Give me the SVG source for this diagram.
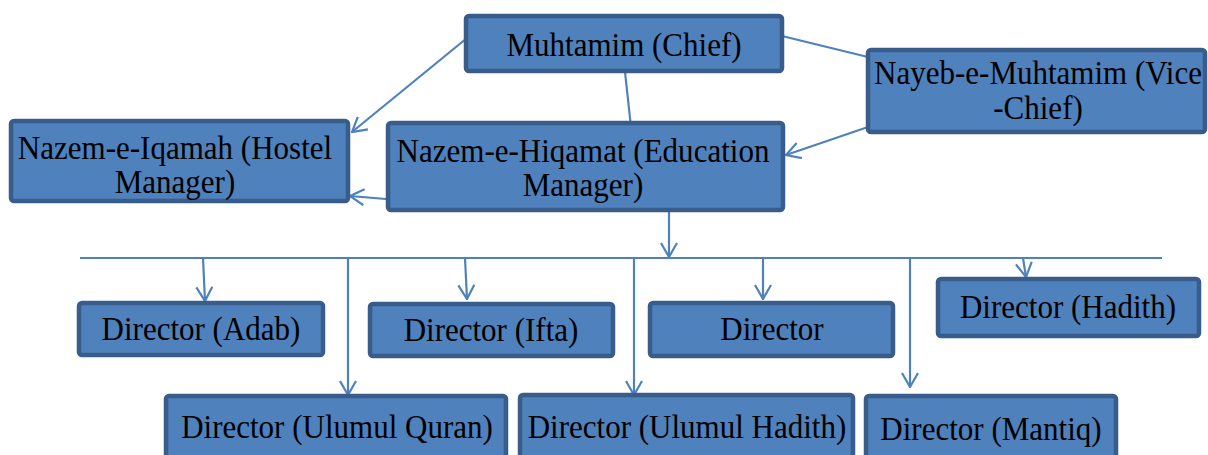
<svg xmlns="http://www.w3.org/2000/svg" width="1208" height="455" viewBox="0 0 1208 455">
  <defs>
    <style>
      .box { fill: #4F81BD; stroke: #385D8A; stroke-width: 4.5; }
      .lbl { font-family: "Liberation Serif", "Times New Roman", serif; font-size: 33px; fill: #000; text-anchor: middle; }
      .conn { fill: none; stroke: #4F81BD; stroke-width: 2.2; }
      .arr { marker-end: url(#arrow); }
    </style>
    <marker id="arrow" viewBox="0 0 16 18" refX="15" refY="9" markerWidth="16" markerHeight="18" markerUnits="userSpaceOnUse" orient="auto">
      <path d="M1,1 L15,9 L1,17" fill="none" stroke="#4F81BD" stroke-width="2.2"/>
    </marker>
  </defs>
  <rect width="1208" height="455" fill="#FFFFFF"/>

  <g id="connectors">
    <line class="conn arr" x1="467" y1="38" x2="352" y2="132"/>
    <line class="conn" x1="625" y1="72" x2="631" y2="127"/>
    <line class="conn" x1="782" y1="36" x2="872" y2="58"/>
    <line class="conn arr" x1="868" y1="127" x2="786" y2="155"/>
    <line class="conn arr" x1="518" y1="210" x2="350" y2="196"/>
    <line class="conn arr" x1="669" y1="210" x2="669" y2="257"/>
    <line class="conn" x1="80" y1="258" x2="1162" y2="258"/>
    <line class="conn arr" x1="203" y1="258" x2="205" y2="301"/>
    <line class="conn arr" x1="348" y1="258" x2="348" y2="395"/>
    <line class="conn arr" x1="465" y1="258" x2="467" y2="299"/>
    <line class="conn arr" x1="634" y1="258" x2="634" y2="395"/>
    <line class="conn arr" x1="763" y1="258" x2="763" y2="299"/>
    <line class="conn arr" x1="910" y1="258" x2="910" y2="387"/>
    <line class="conn arr" x1="1023" y1="258" x2="1026" y2="277"/>
  </g>

  <g id="muhtamim">
    <rect class="box" x="466" y="16" width="316" height="55" rx="3"/>
    <text class="lbl" transform="translate(624,56) scale(0.94,1)">Muhtamim (Chief)</text>
  </g>

  <g id="nayeb">
    <rect class="box" x="868" y="50" width="337" height="82" rx="3"/>
    <text class="lbl" transform="translate(1038,84) scale(0.94,1)"><tspan x="0" y="0">Nayeb-e-Muhtamim (Vice</tspan><tspan x="0" y="35">-Chief)</tspan></text>
  </g>

  <g id="iqamah">
    <rect class="box" x="11" y="121" width="337" height="80" rx="3"/>
    <text class="lbl" transform="translate(175,159) scale(0.94,1)"><tspan x="0" y="0">Nazem-e-Iqamah (Hostel</tspan><tspan x="0" y="34">Manager)</tspan></text>
  </g>

  <g id="hiqamat">
    <rect class="box" x="388" y="123" width="395" height="87" rx="3"/>
    <text class="lbl" transform="translate(583,162) scale(0.94,1)"><tspan x="0" y="0">Nazem-e-Hiqamat (Education</tspan><tspan x="0" y="34">Manager)</tspan></text>
  </g>

  <g id="dir-adab">
    <rect class="box" x="79" y="303" width="244" height="52" rx="3"/>
    <text class="lbl" transform="translate(201,340) scale(0.94,1)">Director (Adab)</text>
  </g>

  <g id="dir-ifta">
    <rect class="box" x="370" y="304" width="243" height="52" rx="3"/>
    <text class="lbl" transform="translate(491,341) scale(0.94,1)">Director (Ifta)</text>
  </g>

  <g id="dir">
    <rect class="box" x="650" y="303" width="243" height="53" rx="3"/>
    <text class="lbl" transform="translate(772,340) scale(0.94,1)">Director</text>
  </g>

  <g id="dir-hadith">
    <rect class="box" x="938" y="279" width="261" height="57" rx="3"/>
    <text class="lbl" transform="translate(1068,318) scale(0.94,1)">Director (Hadith)</text>
  </g>

  <g id="dir-ulumul-quran">
    <rect class="box" x="166" y="396" width="340" height="75" rx="3"/>
    <text class="lbl" transform="translate(337,438) scale(0.94,1)">Director (Ulumul Quran)</text>
  </g>

  <g id="dir-ulumul-hadith">
    <rect class="box" x="520" y="395" width="333" height="75" rx="3"/>
    <text class="lbl" transform="translate(687,438) scale(0.94,1)">Director (Ulumul Hadith)</text>
  </g>

  <g id="dir-mantiq">
    <rect class="box" x="866" y="396" width="250" height="75" rx="3"/>
    <text class="lbl" transform="translate(991,440) scale(0.94,1)">Director (Mantiq)</text>
  </g>
</svg>
